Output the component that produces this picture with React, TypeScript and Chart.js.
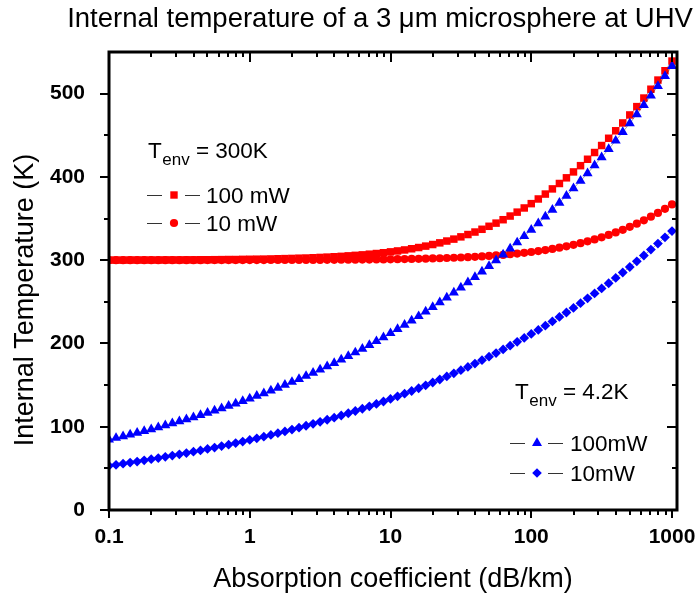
import { useEffect, useRef } from 'react';
import { Chart, registerables } from 'chart.js';

Chart.register(...registerables);

// ---------------- data ----------------
const alpha = [
  0.1, 0.1122, 0.1259, 0.1413, 0.1585, 0.1778, 0.1995, 0.2239, 0.2512, 0.2818,
  0.3162, 0.3548, 0.3981, 0.4467, 0.5012, 0.5623, 0.631, 0.7079, 0.7943, 0.8913,
  1, 1.122, 1.259, 1.413, 1.585, 1.778, 1.995, 2.239, 2.512, 2.818,
  3.162, 3.548, 3.981, 4.467, 5.012, 5.623, 6.31, 7.079, 7.943, 8.913,
  10, 11.22, 12.59, 14.13, 15.85, 17.78, 19.95, 22.39, 25.12, 28.18,
  31.62, 35.48, 39.81, 44.67, 50.12, 56.23, 63.1, 70.79, 79.43, 89.13,
  100, 112.2, 125.9, 141.3, 158.5, 177.8, 199.5, 223.9, 251.2, 281.8,
  316.2, 354.8, 398.1, 446.7, 501.2, 562.3, 631, 707.9, 794.3, 891.3,
  1000,
];

// T_env = 300 K, 100 mW (red squares)
const tempRed100 = [
  300.1, 300.1, 300.1, 300.2, 300.2, 300.2, 300.2, 300.2, 300.3, 300.3,
  300.3, 300.4, 300.4, 300.5, 300.5, 300.6, 300.7, 300.8, 300.8, 301.0,
  301.1, 301.2, 301.3, 301.5, 301.7, 301.9, 302.1, 302.4, 302.6, 302.9,
  303.3, 303.7, 304.1, 304.6, 305.2, 305.8, 306.4, 307.2, 308.0, 308.9,
  310.0, 311.1, 312.3, 313.7, 315.2, 316.9, 318.8, 320.8, 323.0, 325.3,
  328.0, 330.8, 333.8, 337.1, 340.7, 344.5, 348.6, 353.0, 357.7, 362.7,
  367.9, 373.5, 379.4, 385.6, 392.1, 398.9, 406.0, 413.5, 421.2, 429.3,
  437.7, 446.4, 455.4, 464.8, 474.4, 484.4, 494.7, 505.3, 516.3, 527.5,
  539.1,
];

// T_env = 300 K, 10 mW (red circles)
const tempRed10 = [
  300.0, 300.0, 300.0, 300.0, 300.0, 300.0, 300.0, 300.0, 300.0, 300.0,
  300.0, 300.0, 300.0, 300.0, 300.1, 300.1, 300.1, 300.1, 300.1, 300.1,
  300.1, 300.1, 300.1, 300.2, 300.2, 300.2, 300.2, 300.2, 300.3, 300.3,
  300.3, 300.4, 300.4, 300.5, 300.5, 300.6, 300.7, 300.7, 300.8, 300.9,
  301.0, 301.2, 301.3, 301.5, 301.6, 301.8, 302.1, 302.3, 302.6, 302.9,
  303.2, 303.6, 304.0, 304.5, 305.1, 305.7, 306.3, 307.1, 307.9, 308.8,
  309.8, 310.9, 312.1, 313.5, 315.0, 316.6, 318.4, 320.4, 322.6, 324.9,
  327.5, 330.3, 333.3, 336.5, 340.1, 343.8, 347.9, 352.2, 356.8, 361.7,
  367.0,
];

// T_env = 4.2 K, 100 mW (blue triangles)
const tempBlue100 = [
  84.5, 86.5, 88.5, 90.5, 92.7, 94.8, 97.0, 99.3, 101.6, 104.0,
  106.4, 108.9, 111.4, 114.0, 116.6, 119.4, 122.1, 125.0, 127.9, 130.9,
  133.9, 137.0, 140.2, 143.5, 146.8, 150.3, 153.8, 157.3, 161.0, 164.8,
  168.6, 172.5, 176.5, 180.7, 184.9, 189.2, 193.6, 198.1, 202.7, 207.4,
  212.3, 217.2, 222.3, 227.4, 232.7, 238.2, 243.7, 249.4, 255.2, 261.1,
  267.2, 273.4, 279.8, 286.3, 293.0, 299.8, 306.8, 314.0, 321.3, 328.8,
  336.4, 344.2, 352.3, 360.5, 368.9, 377.4, 386.2, 395.2, 404.4, 413.9,
  423.5, 433.4, 443.5, 453.8, 464.4, 475.2, 486.2, 497.6, 509.2, 521.0,
  533.2,
];

// T_env = 4.2 K, 10 mW (blue diamonds)
const tempBlue10 = [
  53.1, 54.3, 55.6, 56.9, 58.2, 59.6, 61.0, 62.4, 63.8, 65.3,
  66.8, 68.4, 70.0, 71.6, 73.3, 75.0, 76.8, 78.5, 80.4, 82.2,
  84.2, 86.1, 88.1, 90.2, 92.3, 94.4, 96.6, 98.9, 101.2, 103.5,
  105.9, 108.4, 110.9, 113.5, 116.2, 118.9, 121.6, 124.5, 127.4, 130.3,
  133.4, 136.5, 139.7, 142.9, 146.2, 149.7, 153.1, 156.7, 160.4, 164.1,
  167.9, 171.8, 175.8, 179.9, 184.1, 188.4, 192.8, 197.3, 201.9, 206.6,
  211.4, 216.3, 221.4, 226.5, 231.8, 237.2, 242.7, 248.4, 254.2, 260.1,
  266.1, 272.3, 278.7, 285.2, 291.8, 298.6, 305.6, 312.7, 320.0, 327.4,
  335.0,
];

const xTickValues = [0.1, 1, 10, 100, 1000];
const xTickLabels = ['0.1', '1', '10', '100', '1000'];
const xMinorValues = [
  0.2, 0.3, 0.4, 0.5, 0.6, 0.7, 0.8, 0.9,
  2, 3, 4, 5, 6, 7, 8, 9,
  20, 30, 40, 50, 60, 70, 80, 90,
  200, 300, 400, 500, 600, 700, 800, 900,
];
const yTickValues = [0, 100, 200, 300, 400, 500];
const yMinorValues = [50, 150, 250, 350, 450];

const chartTitle = 'Internal temperature of a 3 \u03bcm microsphere at UHV';
const xAxisTitle = 'Absorption coefficient (dB/km)';
const yAxisTitle = 'Internal Temperature (K)';
const legend300Env = ' = 300K';
const legend300Labels = ['100 mW', '10 mW'];
const legend42Env = ' = 4.2K';
const legend42Labels = ['100mW', '10mW'];

// ---------------- styles ----------------
const RED = '#ff0000';
const BLUE = '#0000ff';
const FONT = '"Liberation Sans", Arial, Helvetica, sans-serif';

function drawMarker(ctx: CanvasRenderingContext2D, style: string, cx: number, cy: number, color: string) {
  ctx.save();
  ctx.fillStyle = color;
  ctx.beginPath();
  if (style === 'rect') {
    ctx.rect(cx - 3.7, cy - 3.7, 7.4, 7.4);
  } else if (style === 'circle') {
    ctx.arc(cx, cy, 4.1, 0, Math.PI * 2);
  } else if (style === 'triangle') {
    const r = 5.8;
    ctx.moveTo(cx, cy - r);
    ctx.lineTo(cx + r * 0.866, cy + r * 0.5);
    ctx.lineTo(cx - r * 0.866, cy + r * 0.5);
    ctx.closePath();
  } else {
    const r = 4.8;
    ctx.moveTo(cx, cy - r);
    ctx.lineTo(cx + r, cy);
    ctx.lineTo(cx, cy + r);
    ctx.lineTo(cx - r, cy);
    ctx.closePath();
  }
  ctx.fill();
  ctx.restore();
}

function drawEnvLabel(ctx: CanvasRenderingContext2D, x: number, y: number, rest: string) {
  ctx.font = `22.5px ${FONT}`;
  ctx.textAlign = 'left';
  ctx.textBaseline = 'alphabetic';
  ctx.fillText('T', x, y);
  let cx = x + ctx.measureText('T').width + 0.5;
  ctx.font = `17px ${FONT}`;
  ctx.fillText('env', cx, y + 7);
  cx += ctx.measureText('env').width;
  ctx.font = `22.5px ${FONT}`;
  ctx.fillText(rest, cx, y);
}

function drawLegendRow(
  ctx: CanvasRenderingContext2D,
  x0: number, x1: number, x2: number, x3: number, mx: number, y: number,
  style: string, color: string, text: string, tx: number,
) {
  ctx.save();
  ctx.strokeStyle = '#333';
  ctx.lineWidth = 1;
  ctx.beginPath();
  ctx.moveTo(x0, y + 0.5);
  ctx.lineTo(x1, y + 0.5);
  ctx.moveTo(x2, y + 0.5);
  ctx.lineTo(x3, y + 0.5);
  ctx.stroke();
  ctx.restore();
  drawMarker(ctx, style, mx, y, color);
  ctx.font = `22.5px ${FONT}`;
  ctx.textAlign = 'left';
  ctx.textBaseline = 'alphabetic';
  ctx.fillStyle = '#000';
  ctx.fillText(text, tx, y + 8);
}

const framePlugin = {
  id: 'frameAndAnnotations',
  afterDraw(chart: any) {
    const { ctx, chartArea: a } = chart;
    const xs = chart.scales.x;
    const ys = chart.scales.y;
    ctx.save();
    ctx.strokeStyle = '#000';
    ctx.fillStyle = '#000';

    // frame
    ctx.lineWidth = 3;
    ctx.strokeRect(a.left, a.top, a.right - a.left, a.bottom - a.top);

    // ticks
    ctx.lineWidth = 2;
    const seg = (x1: number, y1: number, x2: number, y2: number) => {
      ctx.beginPath();
      ctx.moveTo(x1, y1);
      ctx.lineTo(x2, y2);
      ctx.stroke();
    };
    for (const v of xTickValues) {
      const p = Math.round(xs.getPixelForValue(v));
      seg(p, a.bottom, p, a.bottom + 8);
      seg(p, a.top, p, a.top + 10);
    }
    for (const v of xMinorValues) {
      const p = Math.round(xs.getPixelForValue(v));
      seg(p, a.bottom, p, a.bottom + 5);
      seg(p, a.top, p, a.top + 5);
    }
    for (const v of yTickValues) {
      const p = Math.round(ys.getPixelForValue(v));
      seg(a.left - 9, p, a.left, p);
      seg(a.right - 10, p, a.right, p);
    }
    for (const v of yMinorValues) {
      const p = Math.round(ys.getPixelForValue(v));
      seg(a.left - 5, p, a.left, p);
      seg(a.right - 5, p, a.right, p);
    }

    // x tick labels
    ctx.font = `bold 21px ${FONT}`;
    ctx.textAlign = 'center';
    ctx.textBaseline = 'alphabetic';
    xTickValues.forEach((v, i) => {
      ctx.fillText(xTickLabels[i], xs.getPixelForValue(v), a.bottom + 33);
    });

    // titles
    ctx.font = `27.5px ${FONT}`;
    ctx.fillText(chartTitle, 380, 27);
    ctx.font = `27px ${FONT}`;
    ctx.fillText(xAxisTitle, (a.left + a.right) / 2, 587);
    ctx.save();
    ctx.translate(33, 300);
    ctx.rotate(-Math.PI / 2);
    ctx.fillText(yAxisTitle, 0, 0);
    ctx.restore();

    // legend T_env = 300K
    drawEnvLabel(ctx, 148, 158, legend300Env);
    drawLegendRow(ctx, 147, 162, 185, 200, 174, 195, 'rect', RED, legend300Labels[0], 206);
    drawLegendRow(ctx, 147, 162, 185, 200, 174, 223, 'circle', RED, legend300Labels[1], 206);

    // legend T_env = 4.2K
    drawEnvLabel(ctx, 515, 399, legend42Env);
    drawLegendRow(ctx, 510, 525, 548, 563, 537, 443, 'triangle', BLUE, legend42Labels[0], 570);
    drawLegendRow(ctx, 510, 525, 548, 563, 537, 473, 'rectRot', BLUE, legend42Labels[1], 570);

    ctx.restore();
  },
};

const toPoints = (xv: number[], yv: number[]) => xv.map((x, i) => ({ x, y: yv[i] }));

export default function App() {
  const ref = useRef<HTMLCanvasElement | null>(null);

  useEffect(() => {
    if (!ref.current) return;
    const common = {
      showLine: true,
      borderColor: 'rgba(0,0,0,0.6)',
      borderWidth: 0.6,
      pointBorderWidth: 0,
      pointHoverRadius: 0,
    };
    const chart = new Chart(ref.current, {
      type: 'line',
      data: {
        datasets: [
          {
            ...common,
            label: '100mW (4.2K)',
            data: toPoints(alpha, tempBlue100),
            pointStyle: 'triangle',
            pointRadius: 5.8,
            pointBackgroundColor: BLUE,
            pointBorderColor: BLUE,
          },
          {
            ...common,
            label: '10mW (4.2K)',
            data: toPoints(alpha, tempBlue10),
            pointStyle: 'rectRot',
            pointRadius: 4.9,
            pointBackgroundColor: BLUE,
            pointBorderColor: BLUE,
          },
          {
            ...common,
            label: '100 mW (300K)',
            data: toPoints(alpha, tempRed100),
            pointStyle: 'rect',
            pointRadius: 5.3,
            pointBackgroundColor: RED,
            pointBorderColor: RED,
          },
          {
            ...common,
            label: '10 mW (300K)',
            data: toPoints(alpha, tempRed10),
            pointStyle: 'circle',
            pointRadius: 4.1,
            pointBackgroundColor: RED,
            pointBorderColor: RED,
          },
        ] as any,
      },
      options: {
        responsive: false,
        animation: false,
        events: [],
        layout: { padding: { top: 52, right: 21, bottom: 0, left: 0 } },
        plugins: {
          legend: { display: false },
          title: { display: false },
          tooltip: { enabled: false },
        },
        scales: {
          x: {
            type: 'logarithmic',
            min: 0.1,
            max: 1085,
            grid: { display: false },
            border: { display: false },
            afterBuildTicks: (s: any) => {
              s.ticks = xTickValues.map((v) => ({ value: v }));
            },
            afterFit: (s: any) => {
              s.height = 87;
              s.paddingLeft = 0;
              s.paddingRight = 0;
            },
            ticks: { display: false },
          },
          y: {
            type: 'linear',
            min: 0,
            max: 550,
            grid: { display: false },
            border: { display: false },
            afterBuildTicks: (s: any) => {
              s.ticks = yTickValues.map((v) => ({ value: v }));
            },
            afterFit: (s: any) => {
              s.width = 109;
              s.paddingTop = 0;
              s.paddingBottom = 0;
            },
            ticks: {
              padding: 16,
              color: '#000',
              font: { family: FONT, size: 21, weight: 'bold' },
              callback: (v: any) => String(v),
            },
          },
        },
      } as any,
      plugins: [framePlugin],
    });
    return () => chart.destroy();
  }, []);

  return (
    <div style={{ position: 'fixed', left: 0, top: 0, width: 698, height: 597, background: '#fff' }}>
      <canvas ref={ref} width={698} height={597} style={{ display: 'block' }} />
    </div>
  );
}
